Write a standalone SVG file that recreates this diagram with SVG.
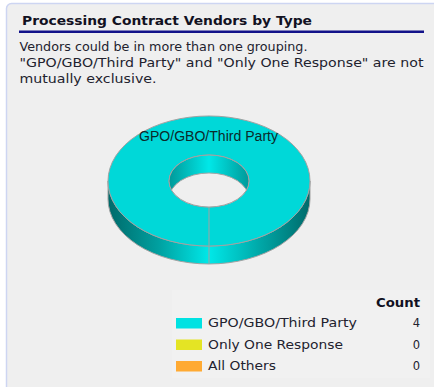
<svg xmlns="http://www.w3.org/2000/svg" width="434" height="387" viewBox="0 0 434 387">
  <style>
    .t { font-family: "DejaVu Sans", Verdana, sans-serif; fill: #22222e; }
    .b { font-weight: bold; fill: #111122; }
    .lbl { font-family: "Liberation Sans", Arial, sans-serif; font-size: 14px; fill: #0b2a2a; }
    .edge { stroke: #a2a2a2; stroke-width: 1; }
  </style>
  <defs>
    <linearGradient id="sideGrad" x1="108" y1="0" x2="310" y2="0" gradientUnits="userSpaceOnUse">
      <stop offset="0" stop-color="#006a6a"/>
      <stop offset="0.25" stop-color="#00a0a0"/>
      <stop offset="0.5" stop-color="#00e8e8"/>
      <stop offset="0.75" stop-color="#00a8a8"/>
      <stop offset="1" stop-color="#006a6a"/>
    </linearGradient>
    <linearGradient id="wallGrad" x1="169" y1="0" x2="249" y2="0" gradientUnits="userSpaceOnUse">
      <stop offset="0" stop-color="#009999"/>
      <stop offset="0.5" stop-color="#00e8e8"/>
      <stop offset="1" stop-color="#009999"/>
    </linearGradient>
    <clipPath id="holeClip">
      <ellipse cx="209" cy="181" rx="40" ry="26"/>
    </clipPath>
  </defs>

  <rect width="434" height="387" fill="#ffffff"/>
  <g id="panel">
    <rect x="6.5" y="3.5" width="440" height="400" rx="5" fill="#efefef" stroke="#cdd5f2" stroke-width="1.5"/>
    <text class="t b" x="22" y="25" font-size="12.5" textLength="290" lengthAdjust="spacingAndGlyphs">Processing Contract Vendors by Type</text>
    <rect x="19" y="30.5" width="405" height="2.5" fill="#12128a"/>
    <text class="t" x="19.5" y="50.5" font-size="11.5" textLength="288" lengthAdjust="spacingAndGlyphs">Vendors could be in more than one grouping.</text>
    <text class="t" x="19.5" y="67" font-size="11.5" textLength="404" lengthAdjust="spacingAndGlyphs">"GPO/GBO/Third Party" and "Only One Response" are not</text>
    <text class="t" x="19.5" y="83" font-size="11.5" textLength="137" lengthAdjust="spacingAndGlyphs">mutually exclusive.</text>
  </g>

  <g id="donut">
    <path class="edge" d="M108,181 L108,199 A101,65 0 0 0 310,199 L310,181 A101,65 0 0 1 108,181 Z" fill="url(#sideGrad)"/>
    <path class="edge" fill-rule="evenodd" fill="#00d8d8" d="M108,181 A101,65 0 1 1 310,181 A101,65 0 1 1 108,181 Z M169,181 A40,26 0 1 0 249,181 A40,26 0 1 0 169,181 Z"/>
    <g clip-path="url(#holeClip)">
      <ellipse cx="209" cy="181" rx="40" ry="26" fill="url(#wallGrad)"/>
      <ellipse class="edge" cx="209" cy="199" rx="40" ry="26" fill="#efefef"/>
    </g>
    <ellipse class="edge" cx="209" cy="181" rx="40" ry="26" fill="none"/>
    <line class="edge" x1="209" y1="207" x2="209" y2="264"/>
    <text class="lbl" x="139" y="141" textLength="139" lengthAdjust="spacingAndGlyphs">GPO/GBO/Third Party</text>
  </g>

  <g id="legend">
    <rect x="172" y="290" width="258" height="88" fill="#f1f1f1"/>
    <text class="t b" x="420" y="307" font-size="12" text-anchor="end" textLength="44" lengthAdjust="spacingAndGlyphs">Count</text>
    <rect x="176" y="318" width="26" height="10.5" fill="#00e2e2"/>
    <rect x="176" y="339.5" width="26" height="10.5" fill="#e4e424"/>
    <rect x="176" y="361" width="26" height="10.5" fill="#ffaa33"/>
    <text class="t" x="208" y="327" font-size="11.5" textLength="149" lengthAdjust="spacingAndGlyphs">GPO/GBO/Third Party</text>
    <text class="t" x="208" y="348.5" font-size="11.5" textLength="135" lengthAdjust="spacingAndGlyphs">Only One Response</text>
    <text class="t" x="208" y="370" font-size="11.5" textLength="68" lengthAdjust="spacingAndGlyphs">All Others</text>
    <text class="t" x="420" y="327" font-size="11.5" text-anchor="end">4</text>
    <text class="t" x="420" y="348.5" font-size="11.5" text-anchor="end">0</text>
    <text class="t" x="420" y="370" font-size="11.5" text-anchor="end">0</text>
  </g>
</svg>
